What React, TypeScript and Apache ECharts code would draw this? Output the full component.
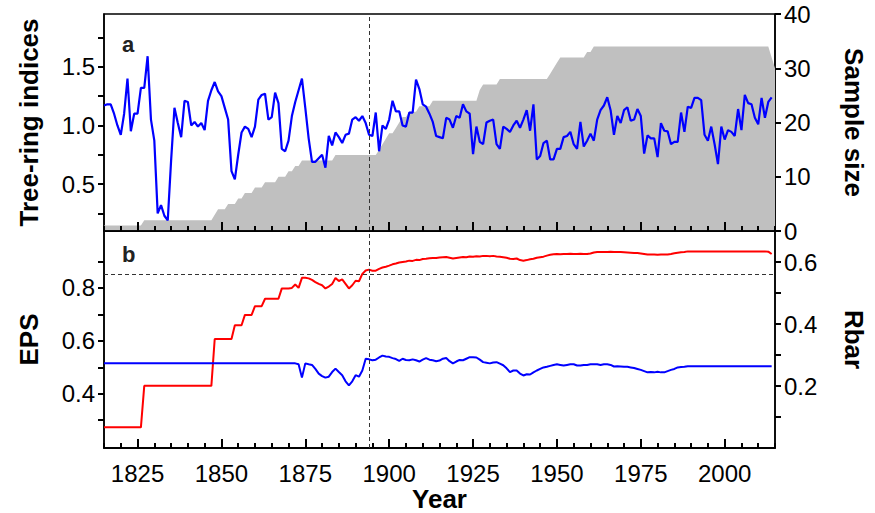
import React, { useEffect, useRef } from "react";
import * as echarts from "echarts";

// ---- data ----
const startYear = 1815;

// Tree-ring indices, 1815-2014
const treeRing = [
  1.17, 1.18, 1.18, 1.10, 1.00,
  0.92, 1.10, 1.40, 0.95, 1.10, 1.10, 1.32, 1.32, 1.59, 1.05,
  0.87, 0.25, 0.32, 0.23, 0.19, 0.70, 1.15, 1.02, 0.90, 1.21,
  1.20, 1.00, 1.03, 0.99, 1.02, 0.96, 1.21, 1.30, 1.37, 1.29,
  1.25, 1.15, 1.05, 0.61, 0.54, 0.75, 0.94, 0.99, 0.97, 0.90,
  0.99, 1.22, 1.26, 1.27, 1.05, 1.07, 1.28, 1.19, 0.80, 0.78,
  0.87, 1.08, 1.20, 1.30, 1.40, 1.15, 0.89, 0.69, 0.69, 0.72,
  0.75, 0.64, 0.91, 0.83, 0.94, 0.90, 0.85, 0.92, 0.93, 1.05,
  1.07, 1.04, 1.08, 1.02, 0.92, 0.91, 1.11, 0.78, 1.00, 0.97,
  1.05, 1.21, 1.12, 1.12, 1.00, 0.99, 1.11, 1.11, 1.39, 1.31,
  1.18, 1.16, 1.10, 1.03, 0.91, 0.90, 0.89, 1.065, 1.05, 0.98,
  1.08, 1.065, 1.18, 1.12, 1.10, 0.755, 0.99, 0.86, 0.84, 1.025,
  1.04, 1.05, 0.84, 0.80, 0.99, 0.97, 0.945, 1.00, 1.04, 0.98,
  1.05, 1.13, 0.955, 1.18, 0.71, 0.74, 0.85, 0.87, 0.71, 0.71,
  0.80, 0.80, 0.90, 0.91, 0.945, 0.84, 0.80, 1.03, 0.82, 0.87,
  0.93, 0.87, 1.05, 1.13, 1.17, 1.24, 1.13, 0.92, 1.08, 1.02,
  1.13, 1.155, 1.04, 1.05, 1.14, 1.08, 0.76, 0.915, 0.89, 0.89,
  0.73, 1.02, 0.955, 0.95, 0.84, 0.86, 0.86, 1.11, 0.945, 1.16,
  1.15, 1.235, 1.235, 1.215, 0.92, 0.87, 0.99, 0.84, 0.67, 0.99,
  0.88, 0.96, 0.945, 0.91, 1.14, 0.96, 1.26, 1.19, 1.18, 1.065,
  1.01, 1.235, 1.065, 1.20, 1.24,
];

// Sample size, 1815-2015
const sampleSize = [
  1, 1, 1, 1, 1,
  1, 1, 1, 1, 1, 1, 1, 2, 2, 2,
  2, 2, 2, 2, 2, 2, 2, 2, 2, 2,
  2, 2, 2, 2, 2, 2, 2, 2, 3, 4,
  4, 4, 5, 5, 5, 6, 6, 7, 7, 7,
  8, 8, 8, 9, 9, 9, 9, 10, 10, 10,
  11, 11, 12, 12, 13, 13, 13, 13, 13, 13,
  13, 13, 13, 13, 14, 14, 14, 14, 14, 14,
  14, 14, 14, 14, 14, 14, 14, 15, 16, 17,
  18, 18, 19, 20, 21, 21, 22, 22, 22, 23,
  23, 23, 23, 24, 24, 24, 24, 24, 24, 24,
  24, 24, 24, 24, 24, 24, 24, 26, 27, 27,
  27, 27, 27, 28, 28, 28, 28, 28, 28, 28,
  28, 28, 28, 28, 28, 28, 28, 28, 29, 30,
  31, 32, 32, 32, 32, 32, 32, 32, 32, 33,
  33, 34, 34, 34, 34, 34, 34, 34, 34, 34,
  34, 34, 34, 34, 34, 34, 34, 34, 34, 34,
  34, 34, 34, 34, 34, 34, 34, 34, 34, 34,
  34, 34, 34, 34, 34, 34, 34, 34, 34, 34,
  34, 34, 34, 34, 34, 34, 34, 34, 34, 34,
  34, 34, 34, 34, 32, 30,
];

// EPS, 1815-2014
const eps = [
  0.273, 0.273, 0.273, 0.273, 0.273,
  0.273, 0.273, 0.273, 0.273, 0.273, 0.273, 0.273, 0.43, 0.43, 0.43,
  0.43, 0.43, 0.43, 0.43, 0.43, 0.43, 0.43, 0.43, 0.43, 0.43,
  0.43, 0.43, 0.43, 0.43, 0.43, 0.43, 0.43, 0.43, 0.607, 0.607,
  0.607, 0.607, 0.607, 0.607, 0.659, 0.659, 0.659, 0.698, 0.698, 0.698,
  0.731, 0.731, 0.731, 0.759, 0.759, 0.759, 0.759, 0.759, 0.798, 0.798,
  0.798, 0.80, 0.813, 0.80, 0.838, 0.838, 0.836, 0.83, 0.822, 0.815,
  0.81, 0.798, 0.805, 0.815, 0.837, 0.826, 0.832, 0.815, 0.798, 0.81,
  0.827, 0.825, 0.853, 0.866, 0.869, 0.865, 0.865, 0.872, 0.877, 0.88,
  0.884, 0.889, 0.892, 0.896, 0.898, 0.90, 0.903, 0.902, 0.906, 0.905,
  0.909, 0.91, 0.912, 0.913, 0.913, 0.915, 0.916, 0.917, 0.914, 0.911,
  0.913, 0.915, 0.917, 0.916, 0.919, 0.918, 0.92, 0.919, 0.921, 0.921,
  0.92, 0.921, 0.919, 0.918, 0.916, 0.914, 0.91, 0.909, 0.911, 0.905,
  0.903, 0.905, 0.908, 0.91, 0.914, 0.916, 0.918, 0.922, 0.925, 0.927,
  0.928, 0.927, 0.928, 0.928, 0.929, 0.928, 0.928, 0.929, 0.928, 0.928,
  0.93, 0.934, 0.936, 0.936, 0.936, 0.936, 0.937, 0.936, 0.936, 0.936,
  0.935, 0.934, 0.933, 0.932, 0.932, 0.93, 0.928, 0.926, 0.926, 0.926,
  0.925, 0.926, 0.926, 0.926, 0.928, 0.931, 0.933, 0.935, 0.936, 0.938,
  0.938, 0.938, 0.938, 0.938, 0.938, 0.938, 0.938, 0.938, 0.938, 0.938,
  0.938, 0.938, 0.938, 0.938, 0.938, 0.938, 0.938, 0.938, 0.938, 0.938,
  0.938, 0.938, 0.938, 0.937, 0.928,
];

// Rbar, 1815-2014
const rbar = [
  0.273, 0.273, 0.273, 0.273, 0.273,
  0.273, 0.273, 0.273, 0.273, 0.273, 0.273, 0.273, 0.273, 0.273, 0.273,
  0.273, 0.273, 0.273, 0.273, 0.273, 0.273, 0.273, 0.273, 0.273, 0.273,
  0.273, 0.273, 0.273, 0.273, 0.273, 0.273, 0.273, 0.273, 0.273, 0.273,
  0.273, 0.273, 0.273, 0.273, 0.273, 0.273, 0.273, 0.273, 0.273, 0.273,
  0.273, 0.273, 0.273, 0.273, 0.273, 0.273, 0.273, 0.273, 0.273, 0.273,
  0.273, 0.273, 0.273, 0.27, 0.227, 0.273, 0.27, 0.268, 0.255, 0.24,
  0.232, 0.227, 0.23, 0.245, 0.256, 0.245, 0.235, 0.215, 0.202, 0.215,
  0.235, 0.23, 0.25, 0.288, 0.286, 0.283, 0.285, 0.292, 0.298, 0.295,
  0.294, 0.29, 0.287, 0.281, 0.288, 0.284, 0.283, 0.286, 0.283, 0.279,
  0.285, 0.29, 0.285, 0.283, 0.28, 0.282, 0.288, 0.29, 0.28, 0.273,
  0.279, 0.284, 0.283, 0.288, 0.293, 0.293, 0.292, 0.285, 0.277, 0.275,
  0.273, 0.276, 0.277, 0.272, 0.267, 0.257, 0.245, 0.25, 0.25, 0.24,
  0.234, 0.238, 0.237, 0.244, 0.25, 0.255, 0.26, 0.262, 0.265, 0.268,
  0.27, 0.268, 0.266, 0.268, 0.27, 0.27, 0.266, 0.266, 0.268, 0.268,
  0.27, 0.27, 0.27, 0.268, 0.27, 0.27, 0.268, 0.263, 0.264, 0.263,
  0.262, 0.262, 0.26, 0.258, 0.255, 0.252, 0.248, 0.244, 0.245, 0.244,
  0.246, 0.244, 0.244, 0.248, 0.252, 0.255, 0.26, 0.261, 0.262, 0.264,
  0.264, 0.264, 0.264, 0.264, 0.264, 0.264, 0.264, 0.264, 0.264, 0.264,
  0.264, 0.264, 0.264, 0.264, 0.264, 0.264, 0.264, 0.264, 0.264, 0.264,
  0.264, 0.264, 0.264, 0.264, 0.264,
];

const yearMin = 1815;
const yearMax = 2015;
const yearMajorTicks = [1825, 1850, 1875, 1900, 1925, 1950, 1975, 2000];
const indexTicks = [0.25, 0.5, 0.75, 1.0, 1.25, 1.5, 1.75];
const indexLabels = [0.5, 1.0, 1.5];
const sampleTicks = [0, 10, 20, 30, 40];
const epsTicks = [0.3, 0.4, 0.5, 0.6, 0.7, 0.8, 0.9];
const epsLabels = [0.4, 0.6, 0.8];
const rbarTicks = [0.1, 0.2, 0.3, 0.4, 0.5, 0.6];
const rbarLabels = [0.2, 0.4, 0.6];
const cutoffYear = 1894;
const epsThreshold = 0.85;

const FONT = "'Liberation Sans', Arial, Helvetica, sans-serif";

const toPairs = (arr: number[]) => arr.map((v, i) => [startYear + i, v]);

export default function App() {
  const ref = useRef<HTMLDivElement>(null);

  useEffect(() => {
    if (!ref.current) return;
    const chart = echarts.init(ref.current, undefined, { renderer: "svg" });

    const black = "#000";
    const labelStyle = { color: black, fontSize: 24, fontFamily: FONT };
    const nameStyle = { color: black, fontSize: 26, fontWeight: "bold", fontFamily: FONT };
    const mkLine = () => ({ show: true, onZero: false, lineStyle: { color: black, width: 1.5 } });
    const tickLine = () => ({ color: black, width: 2 });

    const minorX = (gridIndex: number, extra: any = {}) => ({
      type: "value",
      gridIndex,
      position: "bottom",
      min: yearMin,
      max: yearMax,
      interval: 5,
      axisLine: mkLine(),
      axisTick: { show: true, inside: true, length: 5, lineStyle: tickLine() },
      axisLabel: { show: false },
      splitLine: { show: false },
      ...extra,
    });
    const majorX = (gridIndex: number, showLabels: boolean) => ({
      type: "value",
      gridIndex,
      position: "bottom",
      min: yearMin,
      max: yearMax,
      axisLine: mkLine(),
      axisTick: {
        show: true,
        inside: true,
        length: 9,
        customValues: yearMajorTicks,
        lineStyle: tickLine(),
      },
      axisLabel: showLabels
        ? { show: true, customValues: yearMajorTicks, margin: 13, formatter: (v: number) => String(v), ...labelStyle }
        : { show: false },
      splitLine: { show: false },
    });

    const yAxisBase = (gridIndex: number, position: string, min: number, max: number,
      ticks: number[], labels: number[], digits: number, name: string, nameGap: number, nameRotate: number) => ({
      type: "value",
      gridIndex,
      position,
      min,
      max,
      name,
      nameLocation: "middle",
      nameGap,
      nameRotate,
      nameTextStyle: nameStyle,
      axisLine: mkLine(),
      axisTick: { show: true, length: 6, customValues: ticks, lineStyle: tickLine() },
      axisLabel: {
        show: true,
        customValues: labels,
        margin: 9,
        formatter: (v: number) => v.toFixed(digits),
        ...labelStyle,
      },
      splitLine: { show: false },
    });

    const dashed = { type: [4, 3], color: "#333", width: 1 };

    const option: any = {
      animation: false,
      backgroundColor: "#fff",
      textStyle: { fontFamily: FONT },
      title: [
        { text: "a", left: 122, top: 33, padding: 0, textStyle: { fontSize: 22, fontWeight: "bold", color: "#222", fontFamily: FONT } },
        { text: "b", left: 122, top: 243, padding: 0, textStyle: { fontSize: 22, fontWeight: "bold", color: "#222", fontFamily: FONT } },
      ],
      grid: [
        { left: 104, top: 14, width: 677, height: 217, show: true, borderColor: black, borderWidth: 1.5, backgroundColor: "transparent" },
        { left: 104, top: 231, width: 677, height: 219, show: true, borderColor: black, borderWidth: 1.5, backgroundColor: "transparent" },
      ],
      xAxis: [
        { ...minorX(0), z: 10 },
        { ...majorX(0, false), z: 10 },
        minorX(1, {
          name: "Year",
          nameLocation: "middle",
          nameGap: 38,
          nameTextStyle: nameStyle,
        }),
        majorX(1, true),
      ],
      yAxis: [
        yAxisBase(0, "left", 0.1, 1.95, indexTicks, indexLabels, 1, "Tree-ring indices", 62, 90),
        yAxisBase(0, "right", 0, 40, sampleTicks, sampleTicks, 0, "Sample size", 66, -90),
        yAxisBase(1, "left", 0.195, 1.015, epsTicks, epsLabels, 1, "EPS", 62, 90),
        yAxisBase(1, "right", 0, 0.7, rbarTicks, rbarLabels, 1, "Rbar", 66, -90),
      ],
      series: [
        {
          name: "Sample size",
          type: "line",
          xAxisIndex: 0,
          yAxisIndex: 1,
          data: toPairs(sampleSize),
          symbol: "none",
          lineStyle: { width: 0 },
          areaStyle: { color: "#c0c0c0", opacity: 1 },
          z: 1,
        },
        {
          name: "Tree-ring indices",
          type: "line",
          xAxisIndex: 0,
          yAxisIndex: 0,
          data: toPairs(treeRing),
          symbol: "none",
          lineStyle: { color: "#0000ff", width: 2.2 },
          z: 3,
          markLine: {
            silent: true,
            symbol: "none",
            label: { show: false },
            lineStyle: dashed,
            data: [{ xAxis: cutoffYear }],
          },
        },
        {
          name: "EPS",
          type: "line",
          xAxisIndex: 2,
          yAxisIndex: 2,
          data: toPairs(eps),
          symbol: "none",
          lineStyle: { color: "#ff0000", width: 2 },
          z: 3,
          markLine: {
            silent: true,
            symbol: "none",
            label: { show: false },
            lineStyle: dashed,
            data: [{ xAxis: cutoffYear }, { yAxis: epsThreshold }],
          },
        },
        {
          name: "Rbar",
          type: "line",
          xAxisIndex: 2,
          yAxisIndex: 3,
          data: toPairs(rbar),
          symbol: "none",
          lineStyle: { color: "#0000ff", width: 2 },
          z: 3,
        },
      ],
    };

    chart.setOption(option);
    return () => chart.dispose();
  }, []);

  return (
    <div
      ref={ref}
      style={{ position: "fixed", left: 0, top: 0, width: 875, height: 513, background: "#fff" }}
    />
  );
}
